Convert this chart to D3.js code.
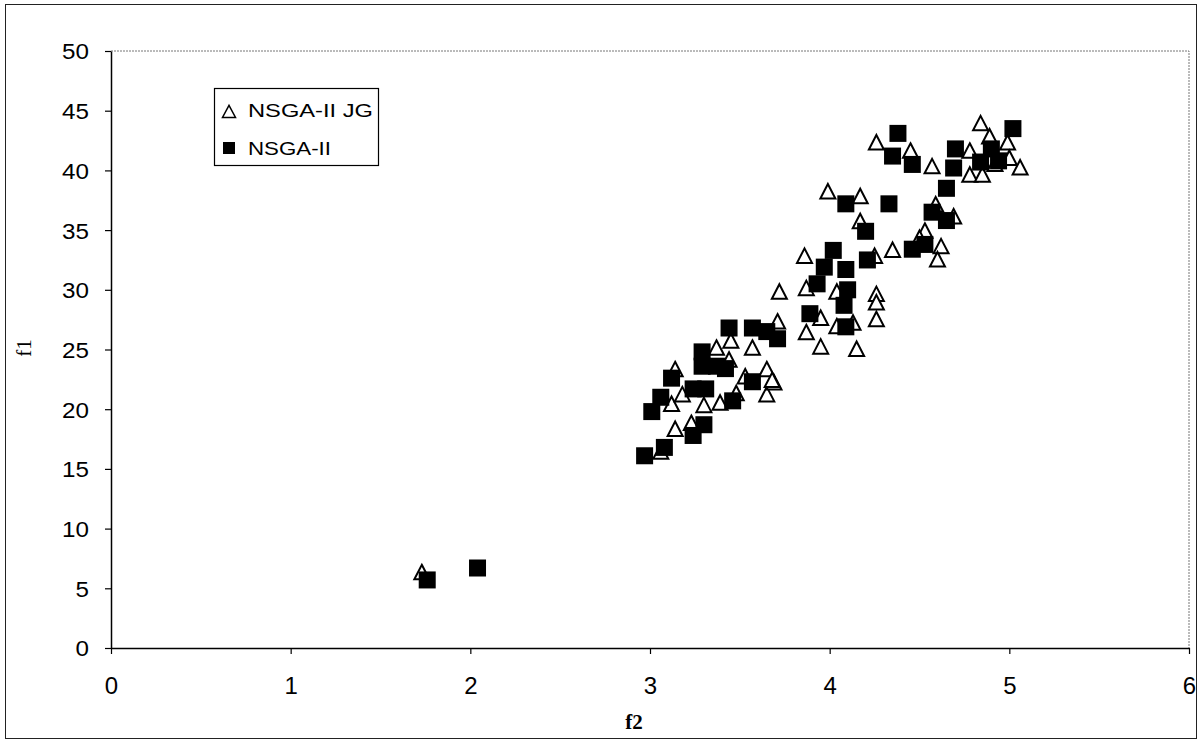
<!DOCTYPE html>
<html>
<head>
<meta charset="utf-8">
<script src="https://cdn.jsdelivr.net/npm/d3@7"></script>
<style>
  body { margin: 0; background: #fff; }
  svg { display: block; }
</style>
</head>
<body>
<div id="chart"></div>
<script>
// NSGA-II JG (open triangles)
const jgX = [1.73, 3.06, 3.14, 3.23, 3.12, 3.18, 3.30, 3.39, 3.48, 3.65, 3.69, 3.14, 3.37, 3.45, 3.44,
  3.53, 3.65, 3.68, 3.57, 3.71, 3.87, 4.26, 4.45, 4.57, 4.78, 4.99, 5.00, 5.06, 4.78, 4.85,
  4.92, 4.84, 4.89, 3.99, 4.17, 4.59, 4.69, 4.17, 4.53, 4.50, 4.35, 4.62, 4.60, 3.86, 4.25,
  3.87, 4.04, 4.26, 4.26, 4.26, 3.95, 4.13, 4.04, 3.72, 3.95, 4.15];
const jgY = [6.3, 16.4, 18.3, 18.8, 20.4, 21.2, 20.3, 20.5, 21.3, 21.2, 22.2, 23.3, 25.1, 25.7, 24.1,
  22.7, 23.3, 22.4, 25.1, 27.3, 26.4, 42.3, 41.6, 40.3, 41.6, 42.3, 41.0, 40.2, 39.6, 39.6,
  40.5, 43.9, 42.8, 38.2, 37.8, 37.1, 36.1, 35.7, 34.9, 34.3, 33.3, 33.6, 32.5, 32.8, 32.8,
  30.1, 29.8, 29.6, 28.9, 27.5, 27.6, 27.2, 26.9, 29.8, 25.2, 25.0];

// NSGA-II (filled squares)
const nsX = [1.76, 2.04, 2.97, 3.08, 3.24, 3.30, 3.01, 3.06, 3.24, 3.31, 3.46, 3.57, 3.12, 3.29, 3.29,
  3.37, 3.42, 3.44, 3.57, 3.65, 3.71, 3.89, 4.35, 4.46, 4.70, 4.69, 4.84, 4.90, 4.94, 5.02,
  4.38, 4.65, 4.09, 4.33, 4.57, 4.65, 4.20, 4.46, 4.53, 4.02, 3.97, 4.09, 4.21, 3.93, 4.10,
  4.08, 4.09];
const nsY = [5.7, 6.7, 16.1, 16.8, 17.8, 18.7, 19.8, 21.0, 21.7, 21.7, 20.7, 22.3, 22.6, 24.8, 23.6,
  23.6, 23.4, 26.8, 26.8, 26.5, 25.9, 28.0, 41.2, 40.5, 41.8, 40.2, 40.7, 41.8, 40.8, 43.5,
  43.1, 38.5, 37.2, 37.2, 36.5, 35.8, 34.9, 33.4, 33.8, 33.3, 31.9, 31.7, 32.5, 30.5, 30.0,
  28.7, 26.9];

const xTicks = [0, 1, 2, 3, 4, 5, 6];
const yTicks = [0, 5, 10, 15, 20, 25, 30, 35, 40, 45, 50];
const seriesNames = ["NSGA-II JG", "NSGA-II"];

const width = 1202, height = 743;
const plot = { left: 111, right: 1189, top: 51, bottom: 648 };
const sansFont = "'Liberation Sans', Arial, sans-serif";
const serifFont = "'Liberation Serif', 'Times New Roman', serif";

const svg = d3.select("#chart")
  .append("svg")
  .attr("width", width)
  .attr("height", height);

// outer frame
svg.append("rect")
  .attr("x", 5.5).attr("y", 4.5)
  .attr("width", width - 11).attr("height", height - 9)
  .attr("fill", "none")
  .attr("stroke", "#222")
  .attr("stroke-width", 1);

const x = d3.scaleLinear().domain([0, 6]).range([plot.left, plot.right]);
const y = d3.scaleLinear().domain([0, 50]).range([plot.bottom, plot.top]);

// dotted plot border on top and right
svg.append("path")
  .attr("d", `M${plot.left},${plot.top}H${plot.right}V${plot.bottom}`)
  .attr("fill", "none")
  .attr("stroke", "#777")
  .attr("stroke-width", 1)
  .attr("stroke-dasharray", "2,1");

const xAxis = svg.append("g")
  .attr("transform", `translate(0,${plot.bottom})`)
  .call(d3.axisBottom(x).tickValues(xTicks).tickSize(6).tickSizeOuter(0).tickFormat(d3.format("d")));

const yAxis = svg.append("g")
  .attr("transform", `translate(${plot.left},0)`)
  .call(d3.axisLeft(y).tickValues(yTicks).tickSize(6).tickSizeOuter(0).tickFormat(d3.format("d")));

[xAxis, yAxis].forEach((ax) => {
  ax.select(".domain").attr("stroke", "#000").attr("stroke-width", 1.5);
  ax.selectAll(".tick line").attr("stroke", "#000").attr("stroke-width", 1.2);
  ax.selectAll("text")
    .attr("fill", "#000")
    .style("font-family", sansFont);
});

xAxis.selectAll("text")
  .style("font-size", "24px")
  .attr("y", 46)
  .attr("dy", 0);

// y labels a touch wider than plain Arial in the scan
yAxis.selectAll("text")
  .style("font-size", "22px")
  .attr("transform", "scale(1.1,1)")
  .attr("x", -22 / 1.1)
  .attr("dy", "0.36em");

// axis titles
svg.append("text")
  .attr("x", 634)
  .attr("y", 729)
  .attr("text-anchor", "middle")
  .style("font-family", serifFont)
  .style("font-size", "21px")
  .style("font-weight", "bold")
  .text("f2");

svg.append("text")
  .attr("transform", "translate(31,348) rotate(-90)")
  .attr("text-anchor", "middle")
  .style("font-family", serifFont)
  .style("font-size", "21px")
  .text("f1");

// open triangle, apex up, a little taller than wide
const triPath = (w, h) => `M0,${-h * 0.55}L${w / 2},${h * 0.45}L${-w / 2},${h * 0.45}Z`;

const jgData = jgX.map((d, i) => ({ x: d, y: jgY[i] }));
const nsData = nsX.map((d, i) => ({ x: d, y: nsY[i] }));

svg.append("g")
  .selectAll("path")
  .data(jgData)
  .join("path")
  .attr("d", triPath(15, 14.5))
  .attr("transform", (d) => `translate(${x(d.x)},${y(d.y)})`)
  .attr("fill", "#fff")
  .attr("stroke", "#000")
  .attr("stroke-width", 2)
  .attr("stroke-linejoin", "miter");

const sq = 17;
svg.append("g")
  .selectAll("rect")
  .data(nsData)
  .join("rect")
  .attr("x", (d) => x(d.x) - sq / 2)
  .attr("y", (d) => y(d.y) - sq / 2)
  .attr("width", sq)
  .attr("height", sq)
  .attr("fill", "#000");

// legend
const legend = svg.append("g").attr("transform", "translate(214,88)");
legend.append("rect")
  .attr("x", 0.5).attr("y", 0.5)
  .attr("width", 164).attr("height", 77)
  .attr("fill", "#fff")
  .attr("stroke", "#000")
  .attr("stroke-width", 1.2);

legend.append("path")
  .attr("d", triPath(13, 12))
  .attr("transform", "translate(15,24)")
  .attr("fill", "#fff")
  .attr("stroke", "#000")
  .attr("stroke-width", 1.5);

legend.append("rect")
  .attr("x", 9).attr("y", 54)
  .attr("width", 12).attr("height", 12)
  .attr("fill", "#000");

const legendWidths = [125, 83];
legend.selectAll("text.lbl")
  .data(seriesNames)
  .join("text")
  .attr("class", "lbl")
  .attr("x", 34)
  .attr("y", (d, i) => 29 + i * 38)
  .attr("textLength", (d, i) => legendWidths[i])
  .attr("lengthAdjust", "spacingAndGlyphs")
  .style("font-family", sansFont)
  .style("font-size", "18px")
  .attr("fill", "#000")
  .text((d) => d);
</script>
</body>
</html>
